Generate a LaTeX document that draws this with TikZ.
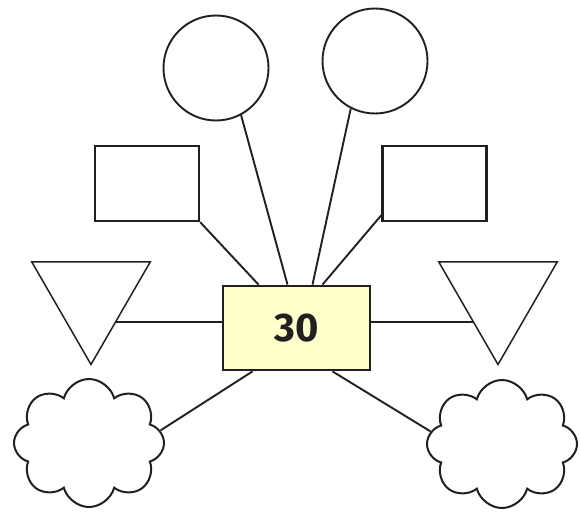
\documentclass[tikz,border=0pt]{standalone}
\usepackage{fontspec}
\newfontfamily\numfont{Fira Sans}
\usetikzlibrary{shapes.geometric,shapes.symbols,calc}
\definecolor{ink}{RGB}{35,31,32}
\definecolor{paleyellow}{RGB}{255,255,204}

\tikzset{
  circ/.style={draw=ink, line width=1.9pt, circle, minimum size=105pt, inner sep=0pt},
  blank/.style={draw=ink, line width=2.4pt, rectangle, minimum width=104pt, minimum height=75pt, inner sep=0pt},
  tri/.style={draw=ink, line width=1.5pt, regular polygon, regular polygon sides=3,
    shape border rotate=180, minimum size=137pt, inner sep=0pt},
  puff/.style={draw=ink, line width=2pt, cloud, cloud puffs=8, cloud puff arc=150,
    aspect=1.17, minimum width=150pt, minimum height=128pt, inner sep=0pt},
  link/.style={draw=ink, line width=1.9pt},
}

\begin{document}
\begin{tikzpicture}[x=1pt,y=-1pt]
	\useasboundingbox (0,0) rectangle (580,511);

	\node[draw=ink, line width=2.8pt, fill=paleyellow, minimum width=147pt, minimum height=84pt,
	  inner sep=0pt, font=\numfont\bfseries\fontsize{40}{48}\selectfont, text=ink] (box) at (296.5,328) {30};

	\node[circ] (circL) at (216,68) {};
	\node[circ] (circR) at (375,61) {};
	\node[blank] (rectL) at (147,183.5) {};
	\node[blank] (rectR) at (434.5,183.5) {};
	\node[tri] (triL) at (91,296) {};
	\node[tri] (triR) at (498,296) {};
	\node[puff] (cloudL) at (89,443) {};
	\node[puff] (cloudR) at (502,444) {};

	\draw[link] (circL.-62) -- ([xshift=-9pt]box.north);
	\draw[link] (circR.-117) -- ([xshift=16pt]box.north);
	\draw[link] (rectL.south east) -- ([xshift=-38pt]box.north);
	\draw[link] ([yshift=7pt]rectR.south west) -- ([xshift=26pt]box.north);
	\draw[link] ($(triL.corner 1)!0.42!(triL.corner 2)$) coordinate (pL) -- (pL -| box.west);
	\draw[link] ($(triR.corner 1)!0.42!(triR.corner 3)$) coordinate (pR) -- (pR -| box.east);
	\draw[link] (cloudL.10) -- ([xshift=-44pt]box.south);
	\draw[link] (cloudR.170) -- ([xshift=36pt]box.south);
\end{tikzpicture}
\end{document}
